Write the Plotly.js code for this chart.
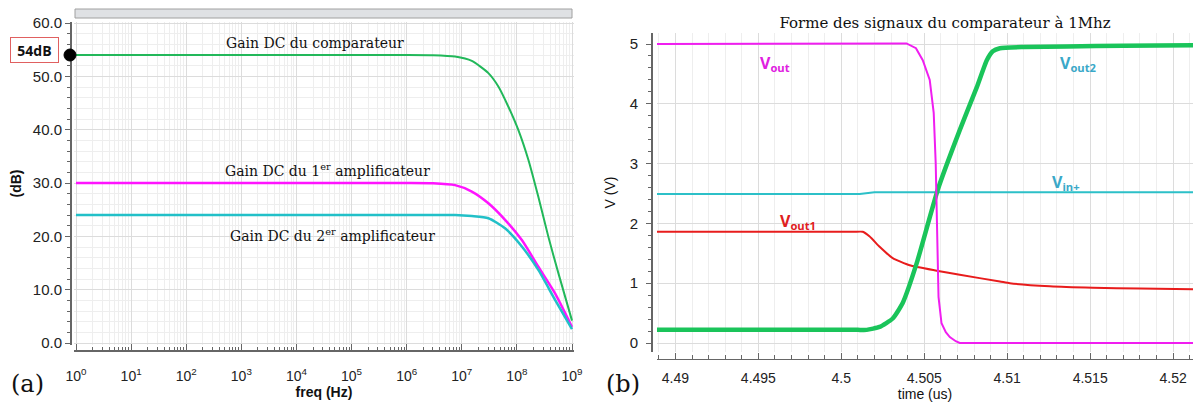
<!DOCTYPE html>
<html>
<head>
<meta charset="utf-8">
<script src="https://cdn.plot.ly/plotly-3.0.1.min.js"></script>
<style>html,body{margin:0;padding:0;background:#fff;}#chart{width:1195px;height:407px;}</style>
</head>
<body>
<div id="chart"></div>
<script>
// ---------- (a) gain vs frequency ----------
const freqComparateur = [1, 10, 100, 1e3, 1e4, 1e5, 1e6, 3e6, 7.55e6, 1.52e7, 3.04e7, 4.61e7, 7.01e7, 1.065e8, 1.62e8, 2.45e8, 3.73e8, 5.66e8, 1e9];
const gainComparateur = [54.0, 54.0, 54.0, 54.0, 54.0, 54.0, 54.0, 53.95, 53.7, 52.9, 50.6, 48.1, 44.3, 39.9, 34.3, 27.4, 19.9, 13.1, 4.2];

const freqAmp1 = [1, 10, 100, 1e3, 1e4, 1e5, 1e6, 3e6, 7.55e6, 1.52e7, 3.04e7, 6.1e7, 1.23e8, 2.45e8, 4.93e8, 1e9];
const gainAmp1 = [30.0, 30.0, 30.0, 30.0, 30.0, 30.0, 30.0, 29.95, 29.6, 28.4, 26.2, 23.1, 19.3, 14.3, 9.3, 3.0];

const freqAmp2 = [1, 10, 100, 1e3, 1e4, 1e5, 1e6, 3e6, 7.55e6, 1.52e7, 3.04e7, 6.1e7, 1.23e8, 2.45e8, 4.93e8, 1e9];
const gainAmp2 = [24.0, 24.0, 24.0, 24.0, 24.0, 24.0, 24.0, 24.0, 24.0, 23.8, 23.4, 21.5, 18.1, 13.7, 8.1, 2.6];

const freqTickVals = [1, 10, 100, 1e3, 1e4, 1e5, 1e6, 1e7, 1e8, 1e9];
const freqTickText = ['10<sup>0</sup>', '10<sup>1</sup>', '10<sup>2</sup>', '10<sup>3</sup>', '10<sup>4</sup>',
                      '10<sup>5</sup>', '10<sup>6</sup>', '10<sup>7</sup>', '10<sup>8</sup>', '10<sup>9</sup>'];
const gainDC = 54;

// ---------- (b) transient signals ----------
const tVout = [4.48889, 4.5014, 4.5016, 4.50393, 4.5045, 4.50491, 4.50533, 4.50557, 4.50569, 4.50577, 4.50586, 4.50604, 4.50630, 4.50654, 4.50690, 4.50714, 4.5212];
const vVout = [5.0, 5.0, 5.01, 5.01, 4.93, 4.73, 4.40, 3.85, 3.01, 1.89, 0.77, 0.33, 0.18, 0.10, 0.03, 0.0, 0.0];

const tVout2 = [4.48889, 4.4950, 4.5000, 4.5010, 4.50153, 4.50231, 4.50310, 4.50370, 4.50455, 4.50581, 4.50714, 4.50817, 4.50877, 4.50913, 4.50956, 4.5110, 4.5136, 4.5170, 4.5212];
const vVout2 = [0.22, 0.22, 0.22, 0.22, 0.22, 0.27, 0.41, 0.67, 1.34, 2.56, 3.56, 4.28, 4.73, 4.88, 4.93, 4.95, 4.96, 4.97, 4.98];

const tVin = [4.48889, 4.50111, 4.5020, 4.5212];
const vVin = [2.49, 2.49, 2.52, 2.52];

const tVout1 = [4.48889, 4.4950, 4.5000, 4.5008, 4.50129, 4.50171, 4.50231, 4.50310, 4.50412, 4.50575, 4.50714, 4.50956, 4.51016, 4.51257, 4.51517, 4.5180, 4.5212];
const vVout1 = [1.86, 1.86, 1.86, 1.86, 1.86, 1.78, 1.61, 1.42, 1.30, 1.21, 1.14, 1.03, 1.00, 0.95, 0.925, 0.91, 0.90];

// ---------- layout helpers (pixel -> paper) ----------
const W = 1195, H = 407;
const px = x => x / W;
const py = y => 1 - y / H;

const serif = 'DejaVu Serif';
const sans = 'Liberation Sans';

const traces = [
  {x: freqComparateur, y: gainComparateur, xaxis: 'x', yaxis: 'y', mode: 'lines', name: 'Gain DC du comparateur',
   line: {color: '#22b85a', width: 2, shape: 'spline', smoothing: 0.6}},
  {x: freqAmp1, y: gainAmp1, xaxis: 'x', yaxis: 'y', mode: 'lines', name: 'Gain DC du 1er amplificateur',
   line: {color: '#ff14ff', width: 2.5, shape: 'spline', smoothing: 0.6}},
  {x: freqAmp2, y: gainAmp2, xaxis: 'x', yaxis: 'y', mode: 'lines', name: 'Gain DC du 2er amplificateur',
   line: {color: '#22c0c8', width: 2.5, shape: 'spline', smoothing: 0.6}},
  {x: tVin, y: vVin, xaxis: 'x2', yaxis: 'y2', mode: 'lines', name: 'Vin+',
   line: {color: '#2cc0c8', width: 2}},
  {x: tVout1, y: vVout1, xaxis: 'x2', yaxis: 'y2', mode: 'lines', name: 'Vout1',
   line: {color: '#e81c1c', width: 2, shape: 'spline', smoothing: 0.5}},
  {x: tVout2, y: vVout2, xaxis: 'x2', yaxis: 'y2', mode: 'lines', name: 'Vout2',
   line: {color: '#1ac45a', width: 4.5, shape: 'spline', smoothing: 0.5}},
  {x: tVout, y: vVout, xaxis: 'x2', yaxis: 'y2', mode: 'lines', name: 'Vout',
   line: {color: '#f01ef0', width: 2}}
];

const gridMajor = '#dcdcdc', gridMinor = '#eeeeee', axisCol = '#666666';
const tickFont = {family: sans, size: 14, color: '#222'};

const layout = {
  width: W, height: H,
  margin: {l: 0, r: 0, t: 0, b: 0},
  paper_bgcolor: '#ffffff', plot_bgcolor: '#ffffff',
  showlegend: false,
  title: {text: 'Forme des signaux du comparateur à 1Mhz', font: {family: serif, size: 15, color: '#111'},
          x: px(945), xanchor: 'center', y: py(23), yanchor: 'middle'},
  xaxis: {
    type: 'log', domain: [px(73.8), px(574.2)], range: [-0.04, 9.04],
    anchor: 'free', position: py(350),
    tickmode: 'array', tickvals: freqTickVals, ticktext: freqTickText,
    ticks: 'inside', ticklen: 6, tickcolor: axisCol, tickfont: tickFont, ticklabelstandoff: 13,
    showline: true, linecolor: axisCol, linewidth: 1.5,
    showgrid: true, gridcolor: gridMajor, zeroline: false,
    minor: {dtick: 'D1', ticks: 'inside', ticklen: 3, tickcolor: axisCol, showgrid: true, gridcolor: gridMinor},
    title: {text: '<b>freq (Hz)</b>', font: {family: sans, size: 14, color: '#111'}, standoff: 3}
  },
  yaxis: {
    domain: [py(345), py(22)], range: [-0.375, 60.19],
    anchor: 'free', position: px(70),
    dtick: 10, tick0: 0, tickformat: '.1f',
    ticks: 'outside', ticklen: 5, tickcolor: axisCol, tickfont: {family: sans, size: 15, color: '#222'},
    showline: true, linecolor: axisCol, linewidth: 1.5,
    showgrid: true, gridcolor: gridMajor, zeroline: false,
    minor: {dtick: 2, ticks: 'outside', ticklen: 3, tickcolor: axisCol, showgrid: true, gridcolor: gridMinor},
    title: {text: '<b>(dB)</b>', font: {family: sans, size: 14, color: '#111'}, standoff: 6}
  },
  xaxis2: {
    domain: [px(657), px(1193)], range: [4.48889, 4.5212],
    anchor: 'free', position: py(358.5),
    dtick: 0.005, tick0: 4.49,
    ticks: 'inside', ticklen: 6, tickcolor: axisCol, tickfont: tickFont, ticklabelstandoff: 6,
    showline: true, linecolor: axisCol, linewidth: 1.5,
    showgrid: true, gridcolor: gridMajor, zeroline: false,
    minor: {dtick: 0.001, ticks: 'inside', ticklen: 4, tickcolor: axisCol, showgrid: true, gridcolor: gridMinor},
    title: {text: 'time (us)', font: {family: sans, size: 14, color: '#111'}, standoff: 0}
  },
  yaxis2: {
    domain: [py(352), py(33)], range: [-0.15, 5.184],
    anchor: 'free', position: px(651),
    dtick: 1, tick0: 0,
    ticks: 'outside', ticklen: 5, tickcolor: axisCol, tickfont: {family: sans, size: 15, color: '#222'},
    ticklabelstandoff: 5,
    showline: true, linecolor: axisCol, linewidth: 1.5,
    showgrid: true, gridcolor: gridMajor, zeroline: false,
    minor: {dtick: 0.2, ticks: 'outside', ticklen: 3, tickcolor: axisCol, showgrid: false},
    title: {text: 'V (V)', font: {family: sans, size: 14, color: '#111'}, standoff: 9}
  },
  yaxis3: {
    overlaying: 'y2', anchor: 'x2', range: [-0.15, 5.184], dtick: 0.5, tick0: 0,
    showgrid: true, gridcolor: gridMinor, showticklabels: false, ticks: '', showline: false, zeroline: false
  },
  shapes: [
    {type: 'rect', xref: 'paper', yref: 'paper', x0: px(75), x1: px(572), y0: py(18), y1: py(9),
     fillcolor: '#dfe1e4', line: {color: '#a0a0a0', width: 1}},
    {type: 'circle', xref: 'paper', yref: 'y', xsizemode: 'pixel', ysizemode: 'pixel',
     xanchor: px(70), yanchor: gainDC, x0: -6, x1: 6, y0: -6, y1: 6,
     fillcolor: '#000', line: {color: '#000', width: 1}}
  ],
  annotations: [
    {text: 'Gain DC du comparateur', xref: 'paper', yref: 'paper', x: px(315), y: py(43), showarrow: false,
     xanchor: 'center', yanchor: 'middle', font: {family: serif, size: 14, color: '#111'}},
    {text: 'Gain DC du 1<sup>er</sup> amplificateur', xref: 'paper', yref: 'paper', x: px(328), y: py(170), showarrow: false,
     xanchor: 'center', yanchor: 'middle', font: {family: serif, size: 14, color: '#111'}},
    {text: 'Gain DC du 2<sup>er</sup> amplificateur', xref: 'paper', yref: 'paper', x: px(332), y: py(235), showarrow: false,
     xanchor: 'center', yanchor: 'middle', font: {family: serif, size: 14, color: '#111'}},
    {text: '<b>' + gainDC + 'dB</b>', xref: 'paper', yref: 'paper', x: px(34.5), y: py(50), showarrow: false,
     xanchor: 'center', yanchor: 'middle', width: 47, height: 24, borderpad: 0,
     bordercolor: '#e06060', borderwidth: 1, bgcolor: '#ffffff',
     font: {family: 'Open Sans', size: 14, color: '#111'}},
    {text: '(a)', xref: 'paper', yref: 'paper', x: px(27), y: py(384), showarrow: false,
     xanchor: 'center', yanchor: 'middle', font: {family: serif, size: 24, color: '#111'}},
    {text: '(b)', xref: 'paper', yref: 'paper', x: px(623), y: py(384), showarrow: false,
     xanchor: 'center', yanchor: 'middle', font: {family: serif, size: 24, color: '#111'}},
    {text: '<b>V<sub>out</sub></b>', xref: 'paper', yref: 'paper', x: px(775), y: py(64), showarrow: false,
     xanchor: 'center', yanchor: 'middle', font: {family: 'Open Sans', size: 16, color: '#e020e0'}},
    {text: '<b>V<sub>out2</sub></b>', xref: 'paper', yref: 'paper', x: px(1078), y: py(64), showarrow: false,
     xanchor: 'center', yanchor: 'middle', font: {family: 'Open Sans', size: 16, color: '#3aa8c8'}},
    {text: '<b>V<sub>in+</sub></b>', xref: 'paper', yref: 'paper', x: px(1066), y: py(182), showarrow: false,
     xanchor: 'center', yanchor: 'middle', font: {family: 'Open Sans', size: 16, color: '#3aa8c8'}},
    {text: '<b>V<sub>out1</sub></b>', xref: 'paper', yref: 'paper', x: px(798), y: py(222), showarrow: false,
     xanchor: 'center', yanchor: 'middle', font: {family: 'Open Sans', size: 16, color: '#e02020'}}
  ]
};

Plotly.newPlot('chart', traces, layout, {staticPlot: true, displayModeBar: false});
</script>
</body>
</html>
